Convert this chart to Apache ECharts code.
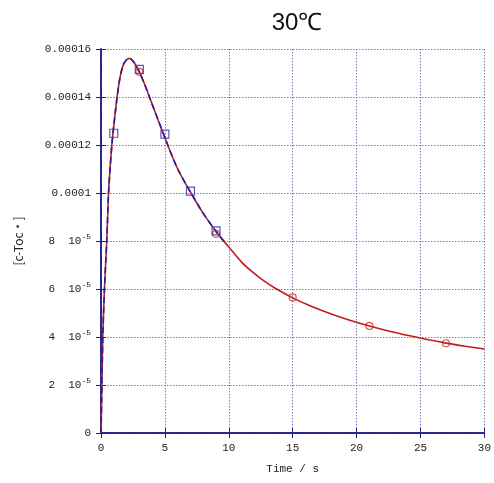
<!DOCTYPE html>
<html><head><meta charset="utf-8">
<script src="https://cdn.jsdelivr.net/npm/echarts@6/dist/echarts.min.js"></script>
<style>html,body{margin:0;padding:0;background:#fff}#c{width:494px;height:483px}</style>
</head><body><div id="c"></div>
<script>
var titleText = '30\u2103';
var xName = 'Time / s';
var yName = '[c-Toc\u30FB]';
var xTicks = [0, 5, 10, 15, 20, 25, 30];
var yTickLabels = ['0', '2  10{s|-5}', '4  10{s|-5}', '6  10{s|-5}', '8  10{s|-5}', '0.0001', '0.00012', '0.00014', '0.00016'];

// model curve (time, value)
var curveT = [0, 0.03, 0.07, 0.14, 0.27, 0.45, 0.59, 0.72, 0.85, 1.0, 1.26, 1.5, 1.75, 2.0, 2.23, 2.5, 2.75, 3.0, 3.4, 3.79, 4.5, 5.22, 6.0, 7.04, 8.0, 9.0, 9.65, 10.0, 11.0, 11.8, 12.64, 13.6, 15.0, 16.4, 17.85, 19.4, 21.0, 22.9, 24.88, 27.0, 28.5, 30.0];
var curveV = [0, 0.8e-5, 2.0e-5, 4.0e-5, 6.0e-5, 8.0e-5, 10.0e-5, 11.1e-5, 12.0e-5, 12.8e-5, 14.0e-5, 14.85e-5, 15.35e-5, 15.55e-5, 15.61e-5, 15.5e-5, 15.3e-5, 15.05e-5, 14.55e-5, 14.0e-5, 13.0e-5, 12.0e-5, 11.0e-5, 10.0e-5, 9.15e-5, 8.4e-5, 7.97e-5, 7.75e-5, 7.12e-5, 6.73e-5, 6.38e-5, 6.04e-5, 5.63e-5, 5.29e-5, 4.99e-5, 4.71e-5, 4.46e-5, 4.2e-5, 3.97e-5, 3.745e-5, 3.615e-5, 3.5e-5];
var blueEnd = 9.8; // blue dashed curve covers early part

// blue square data
var blueT = [1, 3, 5, 7, 9];
var blueV = [1.249e-4, 1.515e-4, 1.245e-4, 1.008e-4, 8.42e-5];
// red circle data
var redT = [3, 9, 15, 21, 27];
var redV = [1.505e-4, 8.3e-5, 5.65e-5, 4.46e-5, 3.74e-5];

function zip(a, b) { return a.map(function (x, i) { return [x, b[i]]; }); }
var curveAll = zip(curveT, curveV);
var curveBlue = curveAll.filter(function (p) { return p[0] <= blueEnd; });

var navy = '#1c1c8a';
var gridCol = '#7a7aae';
var mono = '"Liberation Mono", "DejaVu Sans Mono", monospace';
var yStep = 0.00002;

var chart = echarts.init(document.getElementById('c'), null, {renderer: 'canvas'});
function yFmt(v) {
  var i = Math.round(v / yStep);
  return yTickLabels[i] !== undefined ? yTickLabels[i] : String(v);
}
chart.setOption({
  animation: false,
  backgroundColor: '#fff',
  title: {text: titleText, left: 292, top: 6, textAlign: 'center',
    textStyle: {fontFamily: '"Liberation Sans", Arial, sans-serif', fontSize: 24, fontWeight: 'normal', color: '#111'}},
  grid: {left: 101, right: 9, top: 49, bottom: 50, containLabel: false},
  xAxis: [{
    type: 'value', min: 0, max: 30, interval: 5,
    name: xName, nameLocation: 'middle', nameGap: 31,
    nameTextStyle: {fontFamily: mono, fontSize: 11, color: '#222'},
    axisLine: {show: true, onZero: false, lineStyle: {color: navy, width: 1.5}},
    axisTick: {show: true, inside: true, length: 5, lineStyle: {color: navy}},
    axisLabel: {fontFamily: mono, fontSize: 11, color: '#222', margin: 10},
    splitLine: {show: true, lineStyle: {color: gridCol, type: [1.5, 1.5], width: 1}}
  }, {
    type: 'value', min: 0, max: 30, interval: 5, position: 'top',
    axisLine: {show: true, lineStyle: {color: navy, width: 1.5}},
    axisTick: {show: true, inside: true, length: 5, lineStyle: {color: navy}},
    axisLabel: {show: false}, splitLine: {show: false}
  }],
  yAxis: [{
    type: 'value', min: 0, max: 0.00016, interval: yStep,
    name: yName, nameLocation: 'middle', nameGap: 77, nameRotate: 90,
    nameTextStyle: {fontFamily: '"Noto Sans CJK JP", ' + mono, fontSize: 12, color: '#222'},
    axisLine: {show: true, onZero: false, lineStyle: {color: navy, width: 1.5}},
    axisTick: {show: true, inside: true, length: 5, lineStyle: {color: navy}},
    axisLabel: {fontFamily: mono, fontSize: 11, color: '#222', margin: 10, formatter: yFmt,
      rich: {s: {fontFamily: mono, fontSize: 8, verticalAlign: 'top', padding: [0, 0, 8, 0], color: '#222'}}},
    splitLine: {show: true, lineStyle: {color: gridCol, type: [1.5, 1.5], width: 1}}
  }, {
    type: 'value', min: 0, max: 0.00016, interval: yStep, position: 'right',
    axisLine: {show: true, lineStyle: {color: navy, width: 1.5}},
    axisTick: {show: true, inside: true, length: 5, lineStyle: {color: navy}},
    axisLabel: {show: false}, splitLine: {show: false}
  }],
  series: [
    {type: 'line', data: curveAll, showSymbol: false, smooth: 0.25, z: 2,
      lineStyle: {color: '#c41a1a', width: 1.6}},
    {type: 'line', data: curveBlue, showSymbol: false, smooth: 0.25, z: 3,
      lineStyle: {color: '#2020a0', width: 1.6, type: [6, 4]}},
    {type: 'scatter', data: zip(redT, redV), symbol: 'circle', symbolSize: 7, z: 4,
      itemStyle: {color: 'rgba(0,0,0,0)', borderColor: '#c42a2a', borderWidth: 1.2}},
    {type: 'scatter', data: zip(blueT, blueV), symbol: 'rect', symbolSize: 8, z: 5,
      itemStyle: {color: 'rgba(0,0,0,0)', borderColor: '#2e2ea8', borderWidth: 1.2}}
  ]
});
</script></body></html>
